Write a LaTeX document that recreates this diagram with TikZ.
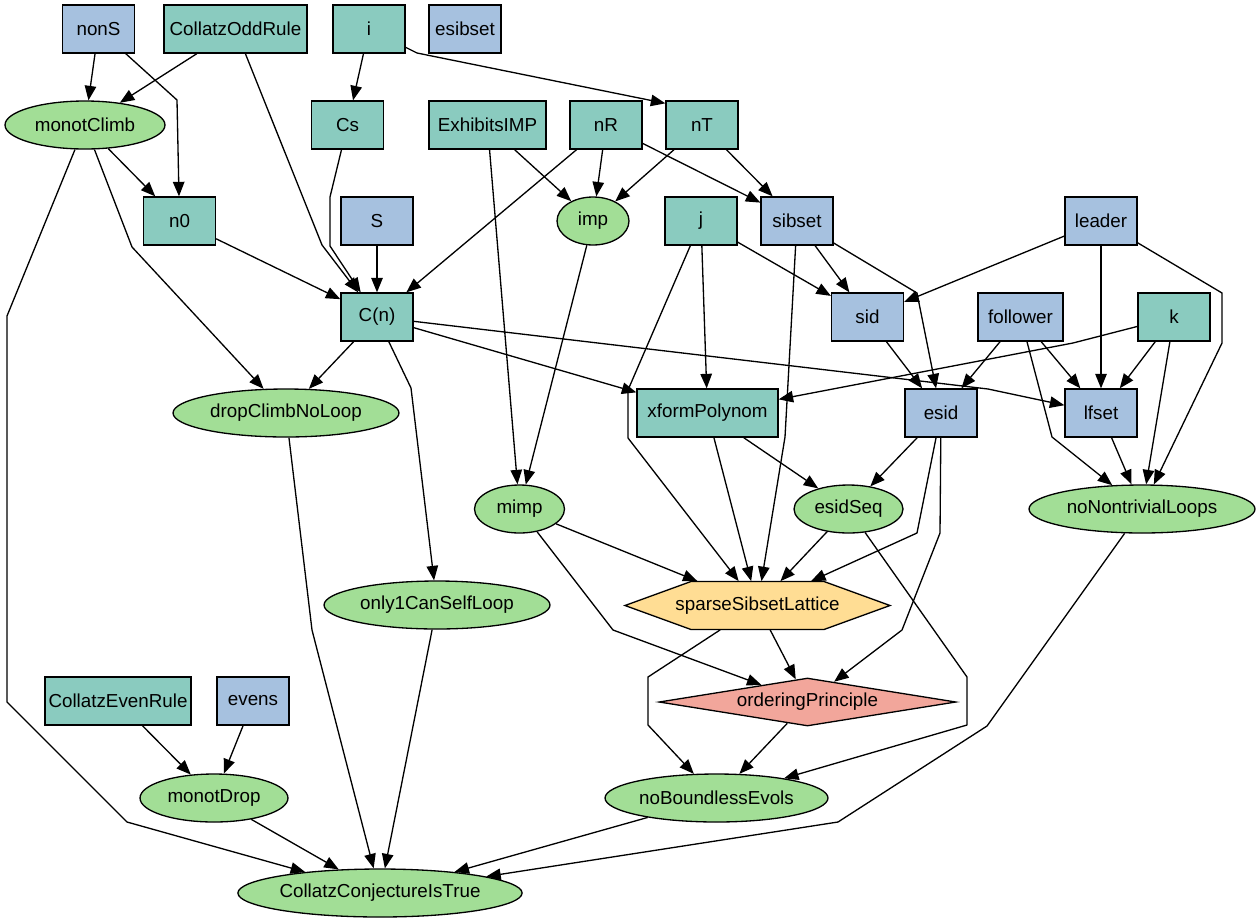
\documentclass[tikz,border=0pt]{standalone}
\usepackage{fontspec}
\setmainfont{Liberation Sans}
\usepackage{tikz}
\usetikzlibrary{calc,arrows.meta,shapes.geometric}
\usepackage{xcolor}
\definecolor{ruleteal}{HTML}{8ACBBF}
\definecolor{setblue}{HTML}{A6C1DF}
\definecolor{claimgreen}{HTML}{A2DE96}
\definecolor{latticegold}{HTML}{FFDD94}
\definecolor{principlered}{HTML}{F2A69B}

\tikzset{
  nodefont/.style={font=\fontsize{10.7}{12}\selectfont},
  rulebox/.style={nodefont,draw,line width=0.75pt,fill=ruleteal,minimum width=1.44cm,minimum height=0.96cm,inner xsep=0pt},
  setbox/.style={rulebox,fill=setblue},
  claim/.style={nodefont,ellipse,draw,line width=0.75pt,fill=claimgreen,minimum height=0.96cm,inner sep=0pt},
  principle/.style={nodefont,diamond,draw,line width=0.75pt,fill=principlered,minimum width=5.94cm,minimum height=0.96cm,shape aspect=6.2,inner sep=0pt},
  link/.style={line width=0.75pt,line join=round,-{Triangle[length=2.9mm,width=2.3mm]}},
}

\begin{document}
\begin{tikzpicture}[x=0.02cm,y=-0.02cm]
    \useasboundingbox (0,0) rectangle (1260,923);

    % first row: inputs
    \node[setbox] (nonS) at (98.5,29) {nonS};
    \node[rulebox,minimum width=2.86cm] (oddRule) at (235.5,29) {CollatzOddRule};
    \node[rulebox] (i) at (369,29) {i};
    \node[setbox] (esibset) at (465,29) {esibset};

    % second row
    \node[claim,minimum width=3.2cm] (monotClimb) at (85,125) {monotClimb};
    \node[rulebox] (Cs) at (347.5,125) {Cs};
    \node[rulebox,minimum width=2.34cm] (exhibitsIMP) at (487.5,125) {ExhibitsIMP};
    \node[rulebox] (nR) at (606,125) {nR};
    \node[rulebox] (nT) at (702,125) {nT};

    % third row
    \node[rulebox] (n0) at (179.5,221) {n0};
    \node[setbox] (S) at (377,221) {S};
    \node[claim,minimum width=1.44cm] (imp) at (593,221) {imp};
    \node[rulebox] (j) at (701,221) {j};
    \node[setbox] (sibset) at (797,221) {sibset};
    \node[setbox] (leader) at (1101,221) {leader};

    % fourth row
    \node[rulebox] (Cn) at (377,317) {C(n)};
    \node[setbox] (sid) at (867.5,317) {sid};
    \node[setbox,minimum width=1.7cm] (follower) at (1020.5,317) {follower};
    \node[rulebox] (k) at (1174,317) {k};

    % fifth row
    \node[claim,minimum width=4.52cm] (dropClimb) at (286,413) {dropClimbNoLoop};
    \node[rulebox,minimum width=2.82cm] (xform) at (707.5,413) {xformPolynom};
    \node[setbox] (esid) at (941,413) {esid};
    \node[setbox] (lfset) at (1101,413) {lfset};

    % sixth row
    \node[claim,minimum width=1.8cm] (mimp) at (519.5,509) {mimp};
    \node[claim,minimum width=2.18cm] (esidSeq) at (848.5,509) {esidSeq};
    \node[claim,minimum width=4.52cm] (noLoops) at (1142,509) {noNontrivialLoops};

    % seventh row, with the hexagon drawn by hand
    \node[claim,minimum width=4.52cm] (only1) at (437,605) {only1CanSelfLoop};
    \draw[line width=0.75pt,fill=latticegold] (625,605.5) -- (691,581.5) -- (824,581.5)
        -- (890,605.5) -- (824,629.5) -- (691,629.5) -- cycle;
    \node[nodefont,minimum width=5.3cm,minimum height=0.96cm] (lattice) at (757.5,605.5) {sparseSibsetLattice};

    % eighth row
    \node[rulebox,minimum width=2.92cm] (evenRule) at (118,701) {CollatzEvenRule};
    \node[setbox] (evens) at (253,701) {evens};
    \node[principle] (ordering) at (807.5,702) {orderingPrinciple};

    % last rows
    \node[claim,minimum width=2.96cm] (monotDrop) at (214,798) {monotDrop};
    \node[claim,minimum width=4.46cm] (noBoundless) at (716.5,798) {noBoundlessEvols};
    \node[claim,minimum width=5.68cm] (collatz) at (380,893) {CollatzConjectureIsTrue};

    % edges out of the top rows
    \draw[link] (nonS) -- (monotClimb);
    \draw[link] (nonS) -- (177,100) -- (n0);
    \draw[link] (oddRule) -- (monotClimb);
    \draw[link] (oddRule) -- (322,245) -- (Cn);
    \draw[link] (i) -- (Cs);
    \draw[link] (i) -- (417,53) -- ($(nT.north west)+(0,3)$);
    \draw[link] (Cs) -- (330,197) -- (330,246) -- (Cn);
    \draw[link] (S) -- (Cn);
    \draw[link] (nR) -- (Cn);
    \draw[link] (n0) -- (Cn);
    \draw[link] (monotClimb) -- (n0);
    \draw[link] (monotClimb) -- (132,247) -- (dropClimb);
    \draw[link] (monotClimb) -- (7,316) -- (7,702) -- (127,822) -- (collatz);

    % edges out of C(n)
    \draw[link] (Cn) -- (dropClimb);
    \draw[link] (Cn) -- (411,388) -- (only1);
    \draw[link] (Cn) -- (xform);
    \draw[link] (Cn) -- (988,389) -- (lfset);

    % imp and mimp
    \draw[link] (exhibitsIMP) -- (imp);
    \draw[link] (exhibitsIMP) -- (mimp);
    \draw[link] (nR) -- (imp);
    \draw[link] (nR) -- (sibset);
    \draw[link] (nT) -- (imp);
    \draw[link] (nT) -- (sibset);
    \draw[link] (imp) -- (mimp);

    % the sets on the right
    \draw[link] (j) -- (sid);
    \draw[link] (j) -- (xform);
    \draw[link] (j) -- (628,390) -- (628,438) -- (lattice);
    \draw[link] (sibset) -- (sid);
    \draw[link] (sibset) -- (917,293) -- (esid);
    \draw[link] (sibset) -- (785,437) -- (lattice);
    \draw[link] (xform) -- (lattice);
    \draw[link] (xform) -- (esidSeq);
    \draw[link] (leader) -- (sid);
    \draw[link] (leader) -- (lfset);
    \draw[link] (leader) -- (1222,293) -- (1222,343) -- (noLoops);
    \draw[link] (k) -- (1073,343) -- (xform);
    \draw[link] (k) -- (lfset);
    \draw[link] (k) -- (noLoops);
    \draw[link] (follower) -- (esid);
    \draw[link] (follower) -- (lfset);
    \draw[link] (follower) -- (1052,437) -- (noLoops);
    \draw[link] (sid) -- (esid);
    \draw[link] (lfset) -- (noLoops);
    \draw[link] (esid) -- (esidSeq);
    \draw[link] (esid) -- (917,533) -- (lattice);
    \draw[link] (esid) -- (940,533) -- (902,630) -- (ordering);

    % lattice, ordering and the bottom
    \draw[link] (esidSeq) -- (lattice);
    \draw[link] (esidSeq) -- (967,677) -- (967,725) -- (noBoundless);
    \draw[link] (mimp) -- (lattice);
    \draw[link] (mimp) -- (613,630) -- (ordering);
    \draw[link] (lattice) -- (ordering);
    \draw[link] (lattice) -- (648,677) -- (648,725) -- (noBoundless);
    \draw[link] (ordering) -- (noBoundless);
    \draw[link] (noLoops) -- (987,726) -- (838,822) -- (collatz);
    \draw[link] (noBoundless) -- (collatz);
    \draw[link] (dropClimb) -- (312,630) -- (collatz);
    \draw[link] (only1) -- (collatz);
    \draw[link] (monotDrop) -- (collatz);
    \draw[link] (evenRule) -- (monotDrop);
    \draw[link] (evens) -- (monotDrop);

\end{tikzpicture}
\end{document}
